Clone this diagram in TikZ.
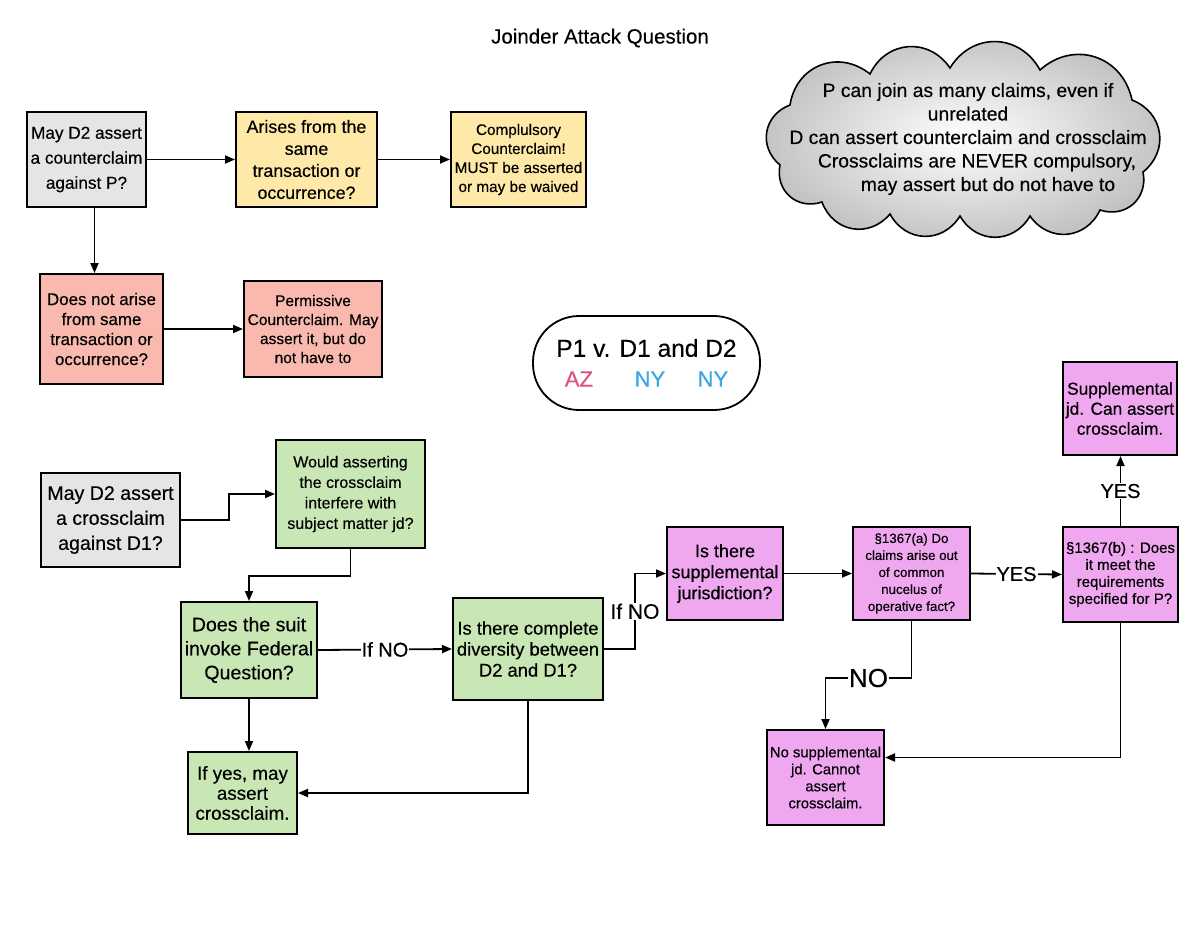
\documentclass[tikz,border=0pt]{standalone}
\usepackage{fontspec}
\setmainfont{Liberation Sans}[FakeBold=0.35]
\usetikzlibrary{arrows.meta}
\definecolor{cgray}{HTML}{E5E5E5}
\definecolor{cyellow}{HTML}{FFE9A8}
\definecolor{csalmon}{HTML}{F9B9AE}
\definecolor{cgreen}{HTML}{C9E7B4}
\definecolor{cviolet}{HTML}{EFA7EF}
\definecolor{caz}{HTML}{E0507D}
\definecolor{cny}{HTML}{3AA6E3}
\newcommand\myfs[2]{\fontsize{#1}{#2}\selectfont}
\begin{document}
\begin{tikzpicture}[x=1pt,y=-1pt,
  flowbox/.style={draw=black,line width=2pt,rectangle,align=center,inner sep=1pt},
  arr/.style={line width=1.8pt,-{Triangle[length=10pt,width=8pt]}},
  lbl/.style={fill=white,inner sep=1pt,font=\myfs{20}{22}},
  puff/.style={bend left=60,looseness=1.2}]
\useasboundingbox (0,0) rectangle (1200,927);
\fill[white] (0,0) rectangle (1200,927);

\node[font=\myfs{20.5}{22}] (title) at (600,38) {Joinder Attack Question};

% counterclaim part
\node[flowbox,fill=cgray,minimum width=119pt,minimum height=95pt,font=\myfs{17.2}{25}] (A) at (86.5,159.5) {May D2 assert\\a counterclaim\\against P?};
\node[flowbox,fill=cyellow,minimum width=141pt,minimum height=95pt,font=\myfs{17.8}{22}] (B) at (306.5,159.5) {Arises from the\\same\\transaction or\\occurrence?};
\node[flowbox,fill=cyellow,minimum width=135pt,minimum height=95pt,font=\myfs{15.3}{19}] (C) at (518.5,159.5) {Complulsory\\Counterclaim!\\MUST be asserted\\or may be waived};
\node[flowbox,fill=csalmon,minimum width=123pt,minimum height=110pt,font=\myfs{16.9}{20}] (D) at (101.5,329) {Does not arise\\from same\\transaction or\\occurrence?};
\node[flowbox,fill=csalmon,minimum width=138pt,minimum height=96pt,font=\myfs{15.5}{19}] (E) at (313,329) {Permissive\\Counterclaim. May\\assert it, but do\\not have to};

% cloud
\shadedraw[line width=1.6pt,draw=black,inner color=white,outer color=black!24]
  (790,105) to[puff] (870,74) to[puff] (950,68) to[puff] (1040,70) to[puff] (1132,100)
  to[puff] (1143,172) to[puff] (1100,210) to[puff] (1030,216) to[puff] (960,216)
  to[puff] (890,214) to[puff] (822,202) to[puff] (780,165) to[puff] (790,105) -- cycle;
\node[align=center,font=\myfs{19.3}{23.5}] (cloudtext) at (968,139) {P can join as many claims, even if\\unrelated\\D can assert counterclaim and crossclaim\hspace*{34pt}\\\hspace*{18pt}Crossclaims are NEVER compulsory,\\\hspace*{40pt}may assert but do not have to};

% parties
\node[draw=black,line width=1.8pt,rounded corners=46pt,minimum width=227pt,minimum height=94pt] (parties) at (646.5,363) {};
\node[font=\myfs{24.5}{26}] (ptitle) at (646.5,348) {P1 v. D1 and D2};
\node[font=\myfs{22}{24}] (pstates) at (646.5,379) {\textcolor{caz}{AZ}\hspace{41.7pt}\textcolor{cny}{NY}\hspace{32.4pt}\textcolor{cny}{NY}};

% crossclaim part
\node[flowbox,fill=cgray,minimum width=139pt,minimum height=94pt,font=\myfs{19.6}{25}] (F) at (110.5,520) {May D2 assert\\a crossclaim\\against D1?};
\node[flowbox,fill=cgreen,minimum width=149pt,minimum height=108pt,font=\myfs{16}{20.5}] (G) at (350.5,494) {Would asserting\\the crossclaim\\interfere with\\subject matter jd?};
\node[flowbox,fill=cgreen,minimum width=136pt,minimum height=96pt,font=\myfs{19.6}{24}] (H) at (249,650) {Does the suit\\invoke Federal\\Question?};
\node[flowbox,fill=cgreen,minimum width=150pt,minimum height=102pt,font=\myfs{18.4}{21}] (I) at (528,649) {Is there complete\\diversity between\\D2 and D1?};
\node[flowbox,fill=cgreen,minimum width=109pt,minimum height=82pt,font=\myfs{18.8}{20}] (J) at (242.5,793) {If yes, may\\assert\\crossclaim.};
\node[flowbox,fill=cviolet,minimum width=116pt,minimum height=93pt,font=\myfs{18}{21}] (K) at (725,573.5) {Is there\\supplemental\\jurisdiction?};
\node[flowbox,fill=cviolet,minimum width=117pt,minimum height=93pt,font=\myfs{13.3}{17}] (L) at (911.5,573.5) {§1367(a) Do\\claims arise out\\of common\\nucelus of\\operative fact?};
\node[flowbox,fill=cviolet,minimum width=115pt,minimum height=95pt,font=\myfs{15}{17}] (M) at (1120.5,574.5) {§1367(b) : Does\\it meet the\\requirements\\specified for P?};
\node[flowbox,fill=cviolet,minimum width=114pt,minimum height=93pt,font=\myfs{17.3}{20}] (N) at (1120,408.5) {Supplemental\\jd. Can assert\\crossclaim.};
\node[flowbox,fill=cviolet,minimum width=117pt,minimum height=95pt,font=\myfs{14.8}{17}] (O) at (825.5,777.5) {No supplemental\\jd. Cannot\\assert\\crossclaim.};

% connectors
\draw[arr] (A.east) -- (B.west);
\draw[arr] (B.east) -- (C.west);
\draw[arr] ([xshift=8pt]A.south) -- ([xshift=8pt]A.south |- D.north);
\draw[arr] (D.east) -- (E.west);

\draw[arr] (F.east) -- ++(48,0) |- (G.west);
\draw[arr] (G.south) -- ++(0,27) -| (H.north);
\draw[arr] (H.east) -- node[lbl]{If NO} (I.west);
\draw[arr] (H.south) -- (H.south |- J.north);
\draw[arr] (I.south) |- (J.east);
\draw[arr] (I.east) -- ++(31,0) |- node[lbl,pos=0.25,font=\myfs{21}{23}]{If NO} (K.west);
\draw[arr] (K.east) -- (L.west);
\draw[arr] (L.east) -- node[lbl]{YES} (M.west);
\draw[arr] (M.north) -- node[lbl]{YES} (M.north |- N.south);
\draw[arr] (L.south) -- ++(0,57) -| node[lbl,pos=0.25,font=\myfs{26}{28}]{NO} (O.north);
\draw[arr] (M.south) |- ([yshift=20pt]O.east);
\end{tikzpicture}
\end{document}
